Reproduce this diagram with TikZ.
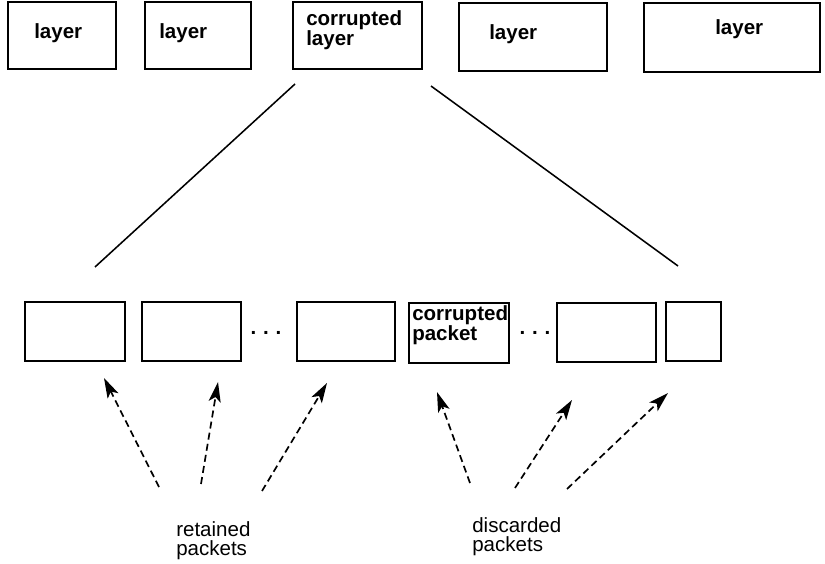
\documentclass[tikz,border=0pt]{standalone}
\usepackage{fontspec}
\setmainfont{Liberation Sans}
\usetikzlibrary{arrows.meta}

\begin{document}
\begin{tikzpicture}[every node/.style={inner sep=0pt, font=\fontsize{14.6}{13.2}\selectfont},
        layerbox/.style={draw, line width=1.3pt, minimum height=1.68cm},
        packetbox/.style={draw, line width=1.3pt, minimum height=1.48cm},
        boxtext/.style={anchor=base west, align=left, font=\fontsize{14.6}{12.8}\selectfont\bfseries},
        note/.style={anchor=base west, align=left},
        fan/.style={line width=1.1pt},
        pointer/.style={-{Stealth[length=0.5cm, width=0.3cm, inset=0.12cm]}, dash pattern=on 5pt off 3pt, line width=1.2pt}]
                \useasboundingbox (0,0) rectangle (20.625,14.075);
                \node[layerbox, minimum width=2.70cm] (l1) at (1.55,13.19) {};
                \node[layerbox, minimum width=2.65cm] (l2) at (4.95,13.19) {};
                \node[layerbox, minimum width=3.22cm] (l3) at (8.94,13.19) {};
                \node[layerbox, minimum width=3.70cm, minimum height=1.72cm] (l4) at (13.325,13.15) {};
                \node[layerbox, minimum width=4.40cm, minimum height=1.72cm] (l5) at (18.30,13.14) {};
                \node[boxtext] (l1txt) at (0.85,13.10) {layer};
                \node[boxtext] (l2txt) at (3.975,13.10) {layer};
                \node[boxtext] (l3txt) at (7.65,12.925) {corrupted\\layer};
                \node[boxtext] (l4txt) at (12.225,13.09) {layer};
                \node[boxtext] (l5txt) at (17.875,13.20) {layer};
                \node[packetbox, minimum width=2.50cm] (p1) at (1.875,5.79) {};
                \node[packetbox, minimum width=2.475cm] (p2) at (4.7875,5.79) {};
                \node[packetbox, minimum width=2.45cm] (p3) at (8.65,5.79) {};
                \node[packetbox, minimum width=2.50cm, minimum height=1.50cm] (p4) at (11.475,5.75) {};
                \node[packetbox, minimum width=2.475cm] (p5) at (15.1625,5.77) {};
                \node[packetbox, minimum width=1.375cm] (p6) at (17.3375,5.78) {};
                \node[boxtext] (p4txt) at (10.30,5.55) {corrupted\\packet};
                \node[anchor=base, font=\fontsize{14.6}{13.2}\selectfont\bfseries] (dots1) at (6.65,5.70) {.\,\,.\,\,.};
                \node[anchor=base, font=\fontsize{14.6}{13.2}\selectfont\bfseries] (dots2) at (13.375,5.70) {.\,\,.\,\,.};
                \coordinate (fanlt) at (7.375,11.975);
                \coordinate (fanlb) at (2.375,7.40);
                \coordinate (fanrt) at (10.775,11.925);
                \coordinate (fanrb) at (16.95,7.425);
                \draw[fan] (fanlt) -- (fanlb);
                \draw[fan] (fanrt) -- (fanrb);
                \coordinate (t1) at (3.975,1.90);   \coordinate (h1) at (2.60,4.625);
                \coordinate (t2) at (5.025,1.975);  \coordinate (h2) at (5.45,4.525);
                \coordinate (t3) at (6.55,1.80);    \coordinate (h3) at (8.175,4.50);
                \coordinate (t4) at (11.75,2.00);   \coordinate (h4) at (10.925,4.275);
                \coordinate (t5) at (12.875,1.875); \coordinate (h5) at (14.30,4.075);
                \coordinate (t6) at (14.175,1.85);  \coordinate (h6) at (16.70,4.25);
                \foreach \i in {1,...,6}
                    \draw[pointer] (t\i) -- (h\i);
                \node[note] (kept) at (4.40,0.20) {retained\\packets};
                \node[note] (lost) at (11.80,0.30) {discarded\\packets};
            \end{tikzpicture}
\end{document}
